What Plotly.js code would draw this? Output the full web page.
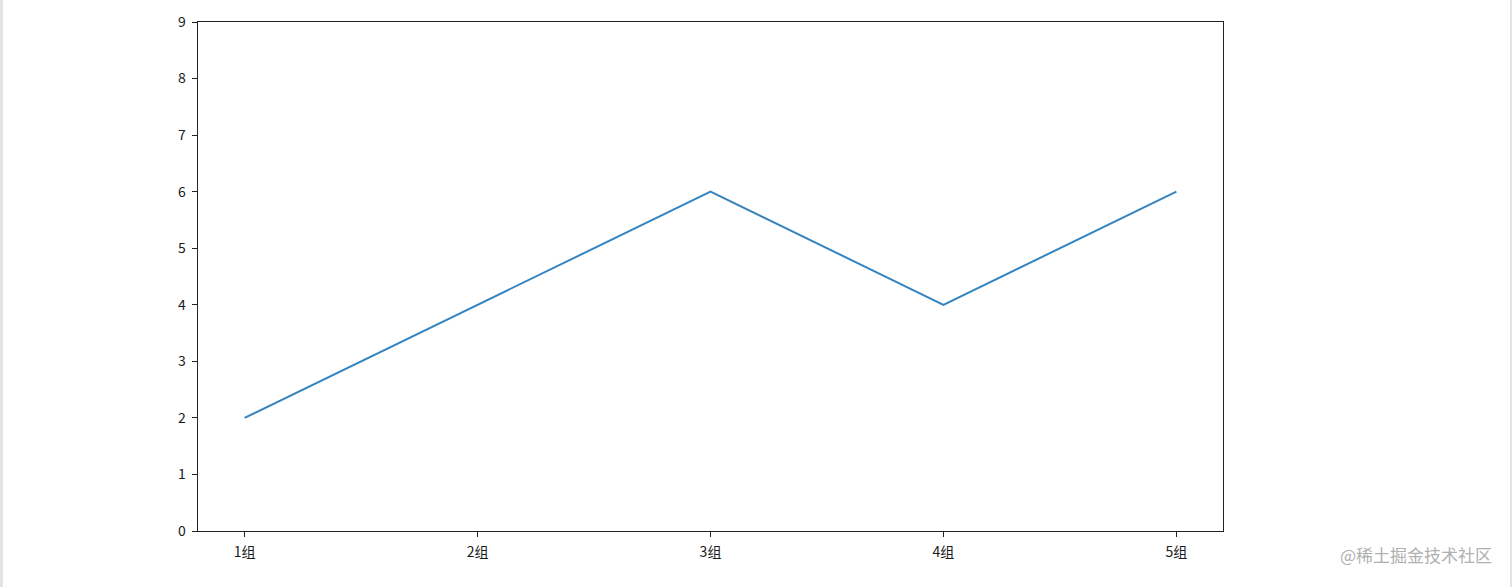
<!DOCTYPE html>
<html>
<head>
<meta charset="utf-8">
<script src="https://cdn.plot.ly/plotly-3.0.1.min.js"></script>
<style>
html,body{margin:0;padding:0;background:#fff;}
#wrap{position:relative;width:1512px;height:587px;}
#chart{width:1512px;height:587px;}
#lb{position:absolute;left:0;top:0;width:3px;height:587px;background:#e3e3e3;}
#rb{position:absolute;right:0;top:0;width:2px;height:587px;background:#e3e3e3;}
</style>
</head>
<body>
<div id="wrap"><div id="chart"></div><div id="lb"></div><div id="rb"></div></div>
<script>
const categories = ['1组', '2组', '3组', '4组', '5组'];
const values = [2, 4, 6, 4, 6];
const yTicks = [0, 1, 2, 3, 4, 5, 6, 7, 8, 9];

const font = {family: '"Noto Sans CJK SC", "DejaVu Sans", sans-serif', size: 14, color: '#1a1a1a'};

Plotly.newPlot('chart', [{
  x: categories.map((_, i) => i),
  y: values,
  type: 'scatter',
  mode: 'lines',
  line: {color: '#3384c0', width: 2},
  hoverinfo: 'skip'
}], {
  width: 1512, height: 587,
  margin: {l: 198, r: 289, t: 22, b: 56},
  paper_bgcolor: '#fff', plot_bgcolor: '#fff',
  showlegend: false,
  font: font,
  xaxis: {
    range: [-0.2, 4.2],
    tickmode: 'array',
    tickvals: categories.map((_, i) => i),
    ticktext: categories,
    ticks: 'outside', ticklen: 5, tickwidth: 1, tickcolor: '#222',
    ticklabelstandoff: 3,
    showline: true, linecolor: '#222', linewidth: 1.3, mirror: true,
    showgrid: false, zeroline: false,
    tickfont: font
  },
  yaxis: {
    range: [0, 9],
    tickmode: 'array',
    tickvals: yTicks,
    ticktext: yTicks.map(String),
    ticks: 'outside', ticklen: 5, tickwidth: 1, tickcolor: '#222',
    ticklabelstandoff: 3,
    showline: true, linecolor: '#222', linewidth: 1.3, mirror: true,
    showgrid: false, zeroline: false,
    tickfont: font
  },
  annotations: [{
    text: '@稀土掘金技术社区',
    xref: 'paper', yref: 'paper',
    x: 1.264, y: -0.047, xanchor: 'right', yanchor: 'middle',
    showarrow: false,
    font: {family: '"Noto Sans CJK SC", sans-serif', size: 17, color: '#b0b0b0'}
  }]
}, {displayModeBar: false, staticPlot: true});
</script>
</body>
</html>
